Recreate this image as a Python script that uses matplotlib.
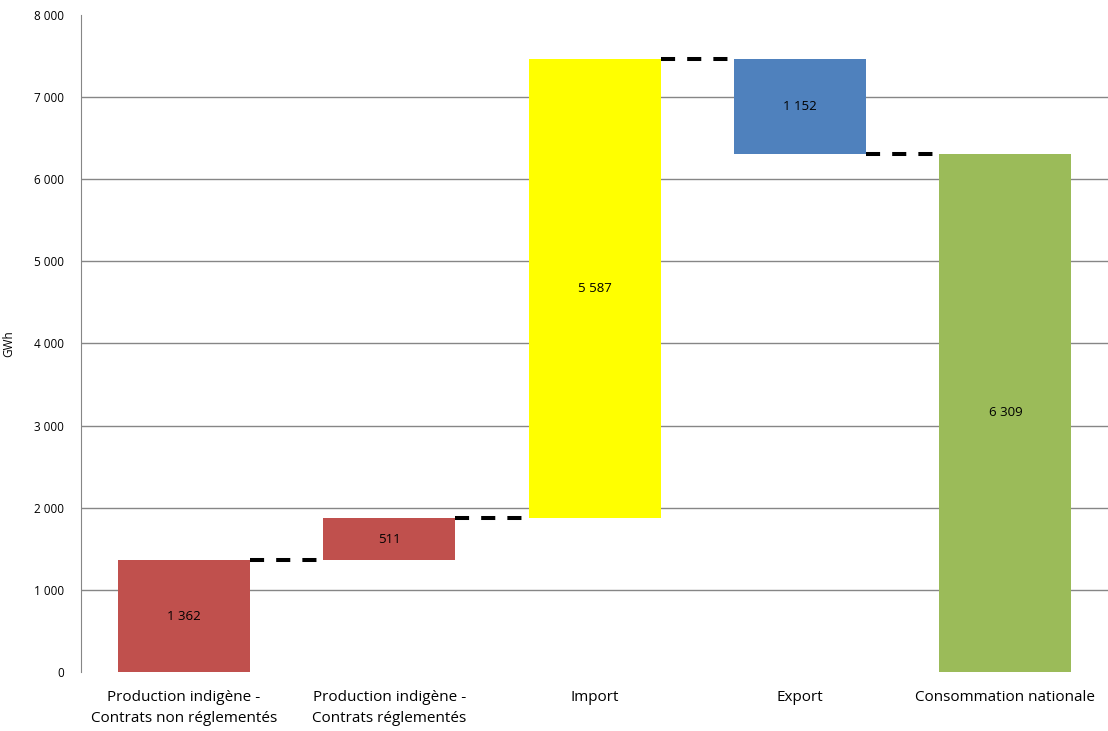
import matplotlib.pyplot as plt
import numpy as np

categories = ['Production indigène -\nContrats non réglementés',
              'Production indigène -\nContrats réglementés',
              'Import', 'Export', 'Consommation nationale']
values = [1362, 511, 5587, -1152, 6309]
labels = ['1 362', '511', '5 587', '1 152', '6 309']
colors = ['#C0504D', '#C0504D', '#FFFF00', '#4F81BD', '#9BBB59']
is_total = [False, False, False, False, True]

plt.rcParams['font.family'] = ['Open Sans', 'DejaVu Sans']

# waterfall bottoms / tops
bottoms = []
tops = []
level = 0
for v, tot in zip(values, is_total):
    if tot:
        bottoms.append(0)
        tops.append(v)
        level = v
    else:
        new = level + v
        bottoms.append(min(level, new))
        tops.append(max(level, new))
        level = new
bottoms = np.array(bottoms)
tops = np.array(tops)

fig = plt.figure(figsize=(11.08, 7.31), dpi=100)
ax = fig.add_axes([0.0731, 0.0807, 0.927, 0.8988])

x = np.arange(len(categories))
width = 0.643
ax.bar(x, tops - bottoms, bottom=bottoms, width=width, color=colors, zorder=3)

for i, lab in enumerate(labels):
    ax.text(x[i], (tops[i] + bottoms[i]) / 2, lab, ha='center', va='center',
            fontsize=9.5, color='black', zorder=4)

# connectors
running = np.cumsum(values[:-1])
for i in range(len(categories) - 1):
    ax.plot([x[i] + width / 2, x[i + 1] - width / 2], [running[i], running[i]],
            color='black', lw=2.9, dashes=(3.5, 3), zorder=4,
            dash_capstyle='butt')

ax.set_xlim(-0.5, len(categories) - 0.5)
ax.set_ylim(0, 8000)
ticks = np.arange(0, 8001, 1000)
ax.set_yticks(ticks)
ax.set_yticklabels(['0' if t == 0 else f'{t // 1000} 000' for t in ticks])
ax.yaxis.grid(True, color='#868686', lw=1, zorder=0)
gl = ax.yaxis.get_gridlines()
gl[0].set_visible(False)
gl[-1].set_visible(False)
ax.set_xticks(x)
ax.set_xticklabels(categories, fontsize=11, linespacing=1.5)
ax.tick_params(axis='x', length=0, pad=13)
ax.tick_params(axis='y', length=0, labelsize=8.5, pad=12)
ax.set_ylabel('GWh', fontsize=8.5, labelpad=14)

for s in ['top', 'right', 'bottom']:
    ax.spines[s].set_visible(False)
ax.spines['left'].set_color('#868686')

fig.savefig('out.png', dpi=100)
